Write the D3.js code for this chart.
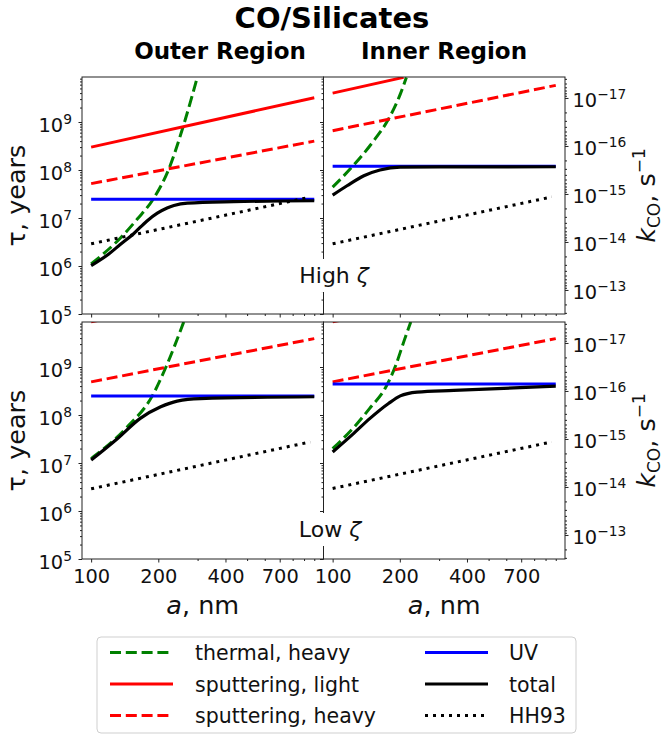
<!DOCTYPE html>
<html lang="en">
<head>
<meta charset="UTF-8">
<script src="https://cdn.jsdelivr.net/npm/d3@7"></script>
<style>
  body { margin: 0; background: #fff; }
  svg { display: block; font-family: 'DejaVu Sans', sans-serif; }
</style>
</head>
<body>
<svg id="chart" width="664" height="735"></svg>
<script>
// grain radius a (nm) -> CO desorption timescale tau (years)
const regions = ["Outer Region", "Inner Region"];
const zetaLabels = ["High", "Low"];
const xMajorTicks = [100, 200, 400, 700];
const xMinorTicks = [300, 500, 600, 800, 900, 1000];
const tauDecades = [5, 6, 7, 8, 9];
const kDecades = [-17, -16, -15, -14, -13];

// outer region, high zeta
const outerHighThermal = [[100, 1.1e6], [135, 3.8e6], [161, 9.5e6], [190, 2.5e7], [223, 1.05e8], [259, 8.3e8], [299, 8.5e9]];
const outerHighSputLight = [[100, 3.0e8], [1000, 3.2e9]];
const outerHighSputHeavy = [[100, 5.2e7], [1000, 4.0e8]];
const outerHighUV = [[100, 2.45e7], [1000, 2.45e7]];
const outerHighTotal = [[100, 1.02e6], [120, 1.78e6], [135, 2.8e6], [155, 4.7e6], [178, 8.7e6], [198, 1.26e7], [219, 1.62e7], [235, 1.82e7], [270, 2.04e7], [436, 2.19e7], [1000, 2.29e7]];
const outerHighHH93 = [[100, 2.9e6], [950, 2.7e7]];

// inner region, high zeta
const innerHighThermal = [[100, 4.4e7], [122, 1.15e8], [153, 4.1e8], [178, 1.15e9], [201, 3.8e9], [214, 8.5e9]];
const innerHighSputLight = [[100, 4.0e9], [208, 8.5e9]];
const innerHighSputHeavy = [[100, 6.6e8], [1000, 5.8e9]];
const innerHighUV = [[100, 1.2e8], [1000, 1.2e8]];
const innerHighTotal = [[100, 3.0e7], [116, 4.7e7], [138, 7.6e7], [163, 1.0e8], [201, 1.15e8], [300, 1.16e8], [1000, 1.17e8]];
const innerHighHH93 = [[100, 2.9e6], [960, 2.75e7]];

// outer region, low zeta
const outerLowThermal = [[100, 1.23e7], [145, 5.6e7], [188, 2.5e8], [215, 9.3e8], [260, 8.7e9]];
const outerLowSputLight = [[100, 8.7e9], [1000, 9.0e10]];
const outerLowSputHeavy = [[100, 4.9e8], [1000, 3.9e9]];
const outerLowUV = [[100, 2.5e8], [1000, 2.5e8]];
const outerLowTotal = [[100, 1.15e7], [131, 3.2e7], [166, 8.5e7], [205, 1.48e8], [243, 1.95e8], [309, 2.2e8], [1000, 2.4e8]];
const outerLowHH93 = [[100, 2.9e6], [960, 2.75e7]];

// inner region, low zeta
const innerLowThermal = [[100, 2.0e7], [124, 5.4e7], [147, 1.4e8], [172, 3.6e8], [192, 1.1e9], [209, 3.5e9], [224, 8.7e9]];
const innerLowSputLight = [[100, 8.7e9], [1000, 9.0e10]];
const innerLowSputHeavy = [[100, 4.9e8], [1000, 3.9e9]];
const innerLowUV = [[100, 4.4e8], [1000, 4.4e8]];
const innerLowTotal = [[100, 1.7e7], [124, 4.1e7], [147, 8.5e7], [178, 1.74e8], [201, 2.5e8], [239, 3.0e8], [349, 3.25e8], [1000, 4.0e8]];
const innerLowHH93 = [[100, 2.95e6], [960, 2.75e7]];

const seriesStyle = [
  { key: "thermal", label: "thermal, heavy", color: "#008000", dash: "11,4.8" },
  { key: "sputLight", label: "sputtering, light", color: "#ff0000", dash: null },
  { key: "sputHeavy", label: "sputtering, heavy", color: "#ff0000", dash: "11,4.8" },
  { key: "uv", label: "UV", color: "#0000ff", dash: null },
  { key: "total", label: "total", color: "#000000", dash: null },
  { key: "hh93", label: "HH93", color: "#000000", dash: "3,5" }
];

const panels = [
  { row: 0, col: 0, thermal: outerHighThermal, sputLight: outerHighSputLight, sputHeavy: outerHighSputHeavy, uv: outerHighUV, total: outerHighTotal, hh93: outerHighHH93 },
  { row: 0, col: 1, thermal: innerHighThermal, sputLight: innerHighSputLight, sputHeavy: innerHighSputHeavy, uv: innerHighUV, total: innerHighTotal, hh93: innerHighHH93 },
  { row: 1, col: 0, thermal: outerLowThermal, sputLight: outerLowSputLight, sputHeavy: outerLowSputHeavy, uv: outerLowUV, total: outerLowTotal, hh93: outerLowHH93 },
  { row: 1, col: 1, thermal: innerLowThermal, sputLight: innerLowSputLight, sputHeavy: innerLowSputHeavy, uv: innerLowUV, total: innerLowTotal, hh93: innerLowHH93 }
];

const svg = d3.select("#chart");
const secPerYear = 3.156e7;
const colX = [82, 323.5], rowY = [77, 322];
const pw = 241.5, ph = 237;
const tickFont = 19.4;
const labelFont = 25.5;

const x = d3.scaleLog().domain([91, 1100]).range([0, pw]);
const y = d3.scaleLog().domain([1e5, 1e5 * Math.pow(10, ph / 48)]).range([ph, 0]);
const tauMax = y.domain()[1];

const tauMinor = [];
tauDecades.forEach(d => { for (let m = 2; m <= 9; m++) { const v = m * Math.pow(10, d); if (v < tauMax) tauMinor.push(v); } });
const kToTau = k => 1 / (k * secPerYear);
const kMinor = [];
for (let d = -19; d <= -13; d++) {
  for (let m = 2; m <= 9; m++) {
    const t = kToTau(m * Math.pow(10, d));
    if (t > 1e5 && t < tauMax) kMinor.push(t);
  }
}

function sup(sel, base, exp, size, shift) {
  sel.text(null);
  sel.append("tspan").text(base);
  sel.append("tspan").attr("dy", shift).attr("font-size", size).text(exp);
}

const line = d3.line().x(d => x(d[0])).y(d => y(d[1])).curve(d3.curveMonotoneX);

svg.append("defs").selectAll("clipPath").data(panels).join("clipPath")
  .attr("id", (d, i) => "clip" + i)
  .append("rect").attr("width", pw).attr("height", ph);

panels.forEach((p, i) => {
  const g = svg.append("g").attr("transform", `translate(${colX[p.col]},${rowY[p.row]})`);

  const plot = g.append("g").attr("clip-path", `url(#clip${i})`);
  seriesStyle.forEach(s => {
    plot.append("path").datum(p[s.key])
      .attr("d", line)
      .attr("fill", "none")
      .attr("stroke", s.color)
      .attr("stroke-width", s.key === "total" ? 3.2 : 3)
      .attr("stroke-dasharray", s.dash);
  });

  g.append("rect").attr("width", pw).attr("height", ph)
    .attr("fill", "none").attr("stroke", "#222").attr("stroke-width", 1);

  // x axis
  const xMaj = g.append("g").attr("transform", `translate(0,${ph})`)
    .call(d3.axisBottom(x).tickValues(xMajorTicks).tickSize(3.5).tickPadding(7)
      .tickFormat(p.row === 1 ? d3.format("d") : () => ""));
  const xMin = g.append("g").attr("transform", `translate(0,${ph})`)
    .call(d3.axisBottom(x).tickValues(xMinorTicks).tickSize(2).tickFormat(() => ""));

  // tau axis (left side of every panel)
  const yMaj = g.append("g")
    .call(d3.axisLeft(y).tickValues(tauDecades.map(d => Math.pow(10, d))).tickSize(3.5).tickPadding(6.5)
      .tickFormat(() => ""));
  const yMin = g.append("g").call(d3.axisLeft(y).tickValues(tauMinor).tickSize(2).tickFormat(() => ""));
  if (p.col === 0) {
    yMaj.selectAll(".tick text").each(function (d) {
      sup(d3.select(this), "10", String(Math.round(Math.log10(d))), 13.8, -8);
    }).attr("dy", "0.48em");
  }

  // k_CO axis (right side of inner panels)
  let kMaj = null, kMin = null;
  if (p.col === 1) {
    kMaj = g.append("g").attr("transform", `translate(${pw},0)`)
      .call(d3.axisRight(y).tickValues(kDecades.map(d => kToTau(Math.pow(10, d)))).tickSize(3.5).tickPadding(4)
        .tickFormat(() => ""));
    kMaj.selectAll(".tick text").each(function (d, j) {
      sup(d3.select(this), "10", "\u2212" + String(-kDecades[j]), 13.8, -8);
    }).attr("dy", "0.45em");
    kMin = g.append("g").attr("transform", `translate(${pw},0)`)
      .call(d3.axisRight(y).tickValues(kMinor).tickSize(2).tickFormat(() => ""));
  }

  [xMaj, xMin, yMaj, yMin, kMaj, kMin].forEach(a => {
    if (!a) return;
    a.select(".domain").remove();
    a.selectAll("line").attr("stroke", "#222");
    a.selectAll("text").attr("font-size", tickFont).attr("fill", "#111")
      .attr("font-family", "'DejaVu Sans', sans-serif");
  });

  // axis titles
  if (p.col === 0) {
    g.append("text").attr("transform", `translate(${25 - colX[0]},${ph / 2}) rotate(-90)`)
      .attr("text-anchor", "middle").attr("font-size", labelFont).attr("fill", "#111")
      .text("\u03c4, years");
  } else {
    const t = g.append("text").attr("transform", `translate(${655 - colX[1]},${ph / 2}) rotate(-90)`)
      .attr("text-anchor", "middle").attr("font-size", labelFont).attr("fill", "#111");
    t.append("tspan").attr("font-style", "italic").text("k");
    t.append("tspan").attr("font-size", 17).attr("dy", 5).text("CO");
    t.append("tspan").attr("dy", -5).text(", s");
    t.append("tspan").attr("font-size", 17).attr("dy", -10).text("\u22121");
  }
  if (p.row === 1) {
    const t = g.append("text").attr("x", pw / 2).attr("y", 614 - rowY[1])
      .attr("text-anchor", "middle").attr("font-size", labelFont).attr("fill", "#111");
    t.append("tspan").attr("font-style", "italic").text("a");
    t.append("tspan").text(", nm");
  }
});

// zeta annotations straddling the two columns, with a white box behind
[283, 537].forEach((by, r) => {
  const g = svg.append("g");
  const box = g.append("rect").attr("fill", "#fff");
  const t = g.append("text").attr("x", r === 0 ? 334 : 330).attr("y", by)
    .attr("text-anchor", "middle").attr("font-size", 22).attr("fill", "#111");
  t.append("tspan").text(zetaLabels[r] + " ");
  t.append("tspan").attr("font-style", "italic").text("\u03b6");
  const b = t.node().getBBox();
  box.attr("x", b.x - 5).attr("y", b.y - 4).attr("width", b.width + 10).attr("height", b.height + 8);
});

// titles
svg.append("text").attr("x", 332).attr("y", 28).attr("text-anchor", "middle")
  .attr("font-size", 29).attr("font-weight", "bold").attr("fill", "#000").text("CO/Silicates");
svg.selectAll(".region").data(regions).join("text").attr("class", "region")
  .attr("x", (d, i) => i === 0 ? 220 : 444).attr("y", 59).attr("text-anchor", "middle")
  .attr("font-size", 23).attr("font-weight", "bold").attr("fill", "#000").text(d => d);

// legend
const legend = svg.append("g");
legend.append("rect").attr("x", 97).attr("y", 637).attr("width", 479).attr("height", 96)
  .attr("rx", 4).attr("fill", "#fff").attr("stroke", "#cfcfcf");
const legCols = [{ lx: 110, tx: 195 }, { lx: 425, tx: 509 }];
seriesStyle.forEach((s, i) => {
  const c = legCols[Math.floor(i / 3)];
  const ly = 652.5 + (i % 3) * 31.5;
  legend.append("line").attr("x1", c.lx).attr("x2", c.lx + 63).attr("y1", ly).attr("y2", ly)
    .attr("stroke", s.color).attr("stroke-width", 3).attr("stroke-dasharray", s.dash);
  legend.append("text").attr("x", c.tx).attr("y", ly + 7.5).attr("font-size", 20.5).attr("fill", "#111").text(s.label);
});
</script>
</body>
</html>
